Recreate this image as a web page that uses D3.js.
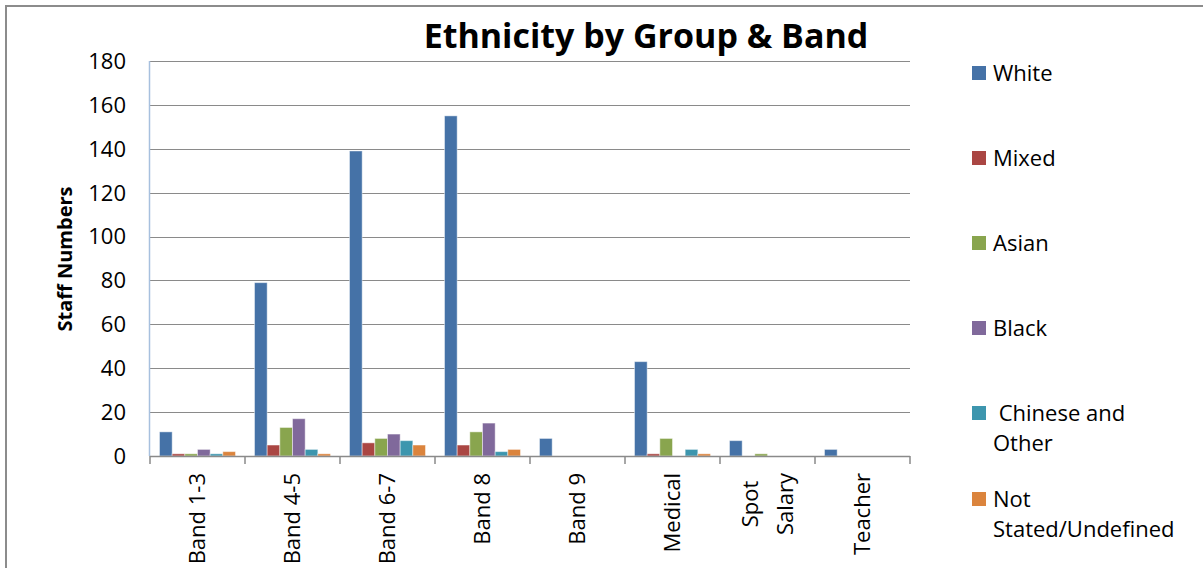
<!DOCTYPE html>
<html lang="en">
<head>
	<meta charset="UTF-8">
	<title>Ethnicity by Group & Band</title>
	<style>
		body { margin: 0; background: #fff; }
		text { font-family: "Open Sans", "Noto Sans", sans-serif; fill: #000; }
	</style>
</head>
<body>
	<svg width="1203" height="568"></svg>

	<script src="https://d3js.org/d3.v7.min.js"></script>
	<script>
		// data
		var groups = ["Band 1-3", "Band 4-5", "Band 6-7", "Band 8", "Band 9", "Medical", "Spot Salary", "Teacher"];
		var series = ["White", "Mixed", "Asian", "Black", "Chinese and Other", "Not Stated/Undefined"];
		var white   = [11, 79, 139, 155, 8, 43, 7, 3];
		var mixed   = [1, 5, 6, 5, 0, 1, 0, 0];
		var asian   = [1, 13, 8, 11, 0, 8, 1, 0];
		var black   = [3, 17, 10, 15, 0, 0, 0, 0];
		var chinese = [1, 3, 7, 2, 0, 3, 0, 0];
		var notStated = [2, 1, 5, 3, 0, 1, 0, 0];
		var yTicks = [0, 20, 40, 60, 80, 100, 120, 140, 160, 180];
		var colors = ["#4572A7", "#AA4643", "#89A54E", "#80699B", "#3D96AE", "#DB843D"];

		var values = [white, mixed, asian, black, chinese, notStated];

		var svg = d3.select("svg");
		var plot = {left: 150, right: 910, top: 61, bottom: 456};

		// outer frame (only top and left edges are visible)
		svg.append("path")
			.attr("d", "M6,568 L6,6 L1203,6")
			.attr("fill", "none")
			.attr("stroke", "#8c8c8c")
			.attr("stroke-width", 2);

		var x0 = d3.scaleBand()
			.domain(groups)
			.range([plot.left, plot.right]);

		// gap width 150% like Excel: 6 bars + 1.5 bar widths of gap
		var barW = x0.bandwidth() / 7.5;
		var x1 = d3.scaleBand()
			.domain(d3.range(series.length))
			.range([barW * 0.75, barW * 0.75 + barW * 6]);

		var y = d3.scaleLinear()
			.domain([0, 180])
			.range([plot.bottom, plot.top]);

		// gridlines
		svg.append("g").selectAll("line")
			.data(yTicks.slice(1))
			.enter()
			.append("line")
			.attr("x1", plot.left)
			.attr("x2", plot.right)
			.attr("y1", function(d){ return Math.round(y(d)) + 0.5; })
			.attr("y2", function(d){ return Math.round(y(d)) + 0.5; })
			.attr("stroke", "#8a8a8a")
			.attr("stroke-width", 1.2);

		// y tick labels
		svg.append("g").selectAll("text")
			.data(yTicks)
			.enter()
			.append("text")
			.attr("x", 126)
			.attr("y", function(d){ return y(d); })
			.attr("dy", "0.36em")
			.attr("text-anchor", "end")
			.style("font-size", "22px")
			.text(function(d){ return d; });

		// bars
		var gs = svg.append("g").selectAll("g")
			.data(groups)
			.enter()
			.append("g")
			.attr("transform", function(d){ return "translate(" + x0(d) + ",0)"; });

		gs.selectAll("rect")
			.data(function(d, gi){
				return values.map(function(arr, si){ return {s: si, v: arr[gi]}; });
			})
			.enter()
			.append("rect")
			.filter(function(d){ return d.v > 0; })
			.attr("x", function(d){ return x1(d.s); })
			.attr("width", x1.bandwidth())
			.attr("y", function(d){ return y(d.v); })
			.attr("height", function(d){ return y(0) - y(d.v); })
			.attr("fill", function(d){ return colors[d.s]; })
			.attr("stroke", "#ffffff")
			.attr("stroke-opacity", 0.45)
			.attr("stroke-width", 1);

		// y axis line
		svg.append("line")
			.attr("x1", plot.left - 0.5).attr("x2", plot.left - 0.5)
			.attr("y1", plot.top).attr("y2", plot.bottom)
			.attr("stroke", "#a7c0de")
			.attr("stroke-width", 1.5);

		// x axis line and ticks at category boundaries
		svg.append("line")
			.attr("x1", plot.left).attr("x2", plot.right)
			.attr("y1", plot.bottom + 0.5).attr("y2", plot.bottom + 0.5)
			.attr("stroke", "#8a8a8a")
			.attr("stroke-width", 1.5);

		svg.append("g").selectAll("line")
			.data(d3.range(groups.length + 1))
			.enter()
			.append("line")
			.attr("x1", function(i){ return plot.left + i * x0.bandwidth(); })
			.attr("x2", function(i){ return plot.left + i * x0.bandwidth(); })
			.attr("y1", plot.bottom)
			.attr("y2", plot.bottom + 8)
			.attr("stroke", "#8a8a8a")
			.attr("stroke-width", 1.5);

		// x labels, rotated, top end at y=473
		var labelTop = 473;
		var labelLines = {"Spot Salary": ["Spot", "Salary"]};
		groups.forEach(function(g){
			var cx = x0(g) + x0.bandwidth() / 2;
			var lines = labelLines[g] || [g];
			var lab = svg.append("g")
				.attr("transform", "translate(" + cx + "," + labelTop + ") rotate(-90)");
			if (lines.length === 1) {
				lab.append("text")
					.attr("x", 0)
					.attr("y", 0)
					.attr("dy", "0.36em")
					.attr("text-anchor", "end")
					.style("font-size", "22px")
					.text(g);
			} else {
				var ts = lab.selectAll("text")
					.data(lines)
					.enter()
					.append("text")
					.attr("y", function(d, i){ return (i - (lines.length - 1) / 2) * 35; })
					.attr("dy", "0.36em")
					.attr("text-anchor", "middle")
					.style("font-size", "22px")
					.text(function(d){ return d; });
				var maxW = d3.max(ts.nodes(), function(n){ return n.getComputedTextLength(); });
				ts.attr("x", -maxW / 2);
			}
		});

		// y axis title
		svg.append("text")
			.attr("transform", "translate(65,259) rotate(-90)")
			.attr("text-anchor", "middle")
			.attr("dy", "0.36em")
			.style("font-size", "20px")
			.style("font-weight", "bold")
			.text("Staff Numbers");

		// title
		svg.append("text")
			.attr("x", 646)
			.attr("y", 48)
			.attr("text-anchor", "middle")
			.style("font-size", "34px")
			.style("font-weight", "bold")
			.text("Ethnicity by Group & Band");

		// legend
		var legendLines = [["White"], ["Mixed"], ["Asian"], ["Black"], [" Chinese and", "Other"], ["Not", "Stated/Undefined"]];
		var legendY = [73, 158, 243, 328, 413, 499];
		var lg = svg.append("g").selectAll("g")
			.data(series)
			.enter()
			.append("g")
			.attr("transform", function(d, i){ return "translate(972," + legendY[i] + ")"; });

		lg.append("rect")
			.attr("x", 0)
			.attr("y", -7)
			.attr("width", 14)
			.attr("height", 14)
			.attr("fill", function(d, i){ return colors[i]; });

		lg.each(function(d, i){
			var t = d3.select(this).append("text")
				.attr("x", 21)
				.style("font-size", "22px")
				.style("white-space", "pre");
			legendLines[i].forEach(function(line, k){
				t.append("tspan")
					.attr("x", 21)
					.attr("y", k * 30)
					.attr("dy", "0.36em")
					.text(line);
			});
		});
	</script>
</body>
</html>
